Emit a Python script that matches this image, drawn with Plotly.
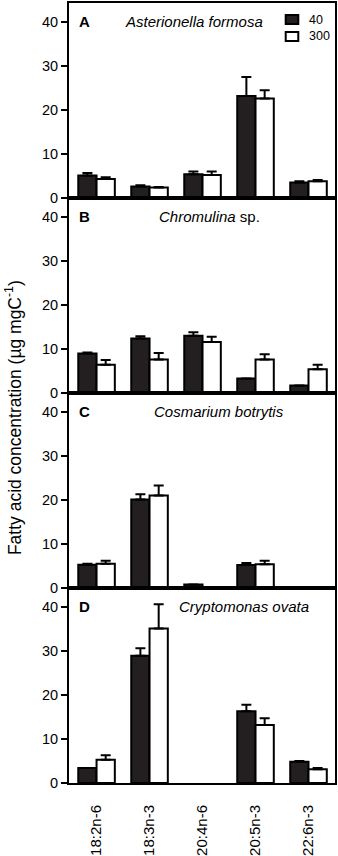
import plotly.graph_objects as go
from plotly.subplots import make_subplots

categories = ["18:2n-6", "18:3n-3", "20:4n-6", "20:5n-3", "22:6n-3"]
series_names = ["40", "300"]
panel_letters = ["A", "B", "C", "D"]
panel_species = ["<i>Asterionella formosa</i>", "<i>Chromulina</i> sp.",
                 "<i>Cosmarium botrytis</i>", "<i>Cryptomonas ovata</i>"]

a_40 = [5.1, 2.6, 5.4, 23.2, 3.5]
a_40_err = [0.6, 0.3, 0.6, 4.3, 0.3]
a_300 = [4.3, 2.4, 5.2, 22.6, 3.8]
a_300_err = [0.4, 0.1, 0.8, 1.9, 0.3]

b_40 = [9.0, 12.4, 13.0, 3.3, 1.7]
b_40_err = [0.2, 0.5, 0.8, 0.0, 0.0]
b_300 = [6.4, 7.6, 11.6, 7.6, 5.4]
b_300_err = [1.1, 1.5, 1.2, 1.2, 1.0]

c_40 = [5.3, 20.1, 0.8, 5.2, None]
c_40_err = [0.2, 1.2, 0.0, 0.5, None]
c_300 = [5.5, 21.0, None, 5.4, None]
c_300_err = [0.7, 2.3, None, 0.8, None]

d_40 = [3.4, 28.9, None, 16.3, 4.8]
d_40_err = [0.0, 1.7, None, 1.5, 0.2]
d_300 = [5.3, 35.1, None, 13.2, 3.1]
d_300_err = [1.0, 5.5, None, 1.5, 0.3]

y_ticks = [0, 10, 20, 30, 40]

panels = [
    (a_40, a_40_err, a_300, a_300_err),
    (b_40, b_40_err, b_300, b_300_err),
    (c_40, c_40_err, c_300, c_300_err),
    (d_40, d_40_err, d_300, d_300_err),
]

FONT = "Liberation Sans, Arial, sans-serif"
fills = ["#231f20", "#ffffff"]

fig = make_subplots(rows=4, cols=1, shared_xaxes=True, vertical_spacing=0)

for i, (m40, e40, m300, e300) in enumerate(panels):
    row = i + 1
    for j, (vals, errs) in enumerate([(m40, e40), (m300, e300)]):
        fig.add_trace(go.Bar(
            x=categories, y=vals,
            name=series_names[j],
            showlegend=False,
            marker=dict(color=fills[j], line=dict(color="#000000", width=2)),
            error_y=dict(type="data", symmetric=False, array=errs,
                         arrayminus=[0 if e is not None else None for e in errs],
                         color="#000000", thickness=2, width=5),
        ), row=row, col=1)
    yref = "y" if row == 1 else f"y{row}"
    fig.add_annotation(text=f"<b>{panel_letters[i]}</b>", xref="paper",
                       yref=f"{yref} domain", x=0.03, y=0.903,
                       xanchor="left", yanchor="middle", showarrow=False,
                       font=dict(family=FONT, size=15, color="#000"))
    sx = [0.203, 0.331, 0.312, 0.406][i]
    fig.add_annotation(text=panel_species[i], xref="paper",
                       yref=f"{yref} domain", x=sx, y=0.903,
                       xanchor="left", yanchor="middle", showarrow=False,
                       font=dict(family=FONT, size=15, color="#000"))

for row in range(1, 5):
    fig.update_yaxes(range=[0, 44.3], tickvals=y_ticks, ticks="outside",
                     ticklen=6, tickwidth=2, tickcolor="#000",
                     showline=True, linewidth=2, linecolor="#000", mirror=True,
                     showgrid=False, zeroline=False, automargin=False,
                     tickfont=dict(family=FONT, size=14.5, color="#000"),
                     row=row, col=1)
    fig.update_xaxes(range=[-0.52, 4.5], showline=True, linewidth=2,
                     linecolor="#000", mirror=True, showgrid=False,
                     ticks="", showticklabels=(row == 4), tickangle=-90,
                     ticklabelstandoff=14, automargin=False,
                     tickfont=dict(family=FONT, size=15, color="#000"),
                     row=row, col=1)

# legend drawn in panel A
legend_rows = [(0.9846, 0.9731, 0.9788), (0.9628, 0.9513, 0.9571)]
for j, (y0, y1, yt) in enumerate(legend_rows):
    fig.add_shape(type="rect", xref="paper", yref="paper",
                  x0=0.8147, x1=0.862, y0=y1, y1=y0,
                  fillcolor=fills[j], line=dict(color="#000", width=2))
    fig.add_annotation(text=series_names[j], xref="paper", yref="paper",
                       x=0.8936, y=yt, xanchor="left", yanchor="middle",
                       showarrow=False,
                       font=dict(family=FONT, size=12.5, color="#000"))

fig.add_annotation(text="Fatty acid concentration (µg mgC<sup>-1</sup>)",
                   xref="paper", yref="paper", x=-0.21, y=0.468,
                   xanchor="center", yanchor="middle", textangle=-90,
                   showarrow=False, font=dict(family=FONT, size=17.5, color="#000"))

fig.update_layout(
    width=338, height=856,
    margin=dict(l=69, r=3, t=3, b=73, autoexpand=False),
    barmode="group", bargap=0.31, bargroupgap=0,
    plot_bgcolor="#ffffff", paper_bgcolor="#ffffff",
    showlegend=False,
)

fig.write_html("out.html",
               config={"displayModeBar": False},
               post_script="document.body.style.margin='0';document.body.style.padding='0';")
